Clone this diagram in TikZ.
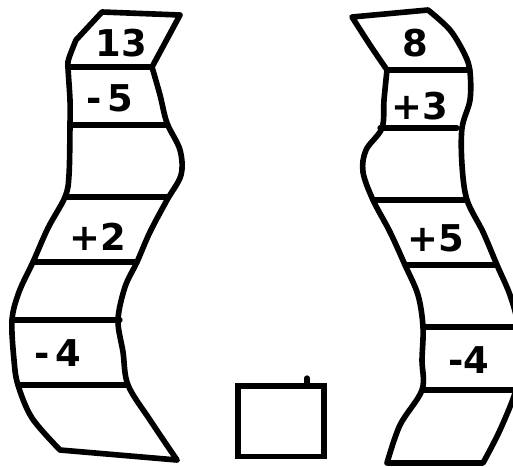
\documentclass[tikz,border=0pt]{standalone}
\usepackage{fontspec}
\setmainfont{DejaVu Sans}
\usetikzlibrary{positioning}

\begin{document}
\begin{tikzpicture}[
  x=0.02cm, y=-0.02cm,
  rim/.style={line width=3.2pt, line cap=round, line join=round},
  rung/.style={line width=3pt, line cap=round},
  num/.style={font=\fontsize{21}{24}\selectfont\bfseries, inner sep=0pt},
  ansbox/.style={draw, line width=3.4pt, minimum width=1.72cm, minimum height=1.42cm, inner sep=0pt}
]
  \useasboundingbox (0,0) rectangle (513,466);
  \clip (0,0) rectangle (513,466);

  % left strip
  \draw[rim] (180,15) -- (102,12) -- (76,40)
    plot[smooth, tension=0.55] coordinates {(76,40) (69,58) (68,67) (70,100) (70,125) (69,175) (65,197) (48,228) (33,262) (19,292) (12,320) (14,360) (18,385) (32,418) (60,450)}
    -- (177,460)
    plot[smooth, tension=0.55] coordinates {(177,460) (150,420) (128,385) (123,352) (118,320) (125,287) (137,262) (150,232) (167,200) (181,175) (180,150) (167,123) (160,95) (152,67)}
    -- (180,15);
  \foreach \ya/\xa/\xb in {67/68/152, 125/70/167, 197/65/167, 262/33/137, 320/12/120, 385/18/128}
    \draw[rung] (\xa,\ya) -- (\xb,\ya);

  % right strip
  \draw[rim] (387,70)
    plot[smooth, tension=0.55] coordinates {(387,70) (370,45) (352,17)}
    -- (428,10)
    plot[smooth, tension=0.55] coordinates {(428,10) (450,30) (465,55) (470,72) (470,100) (462,128) (462,165) (467,200) (483,232) (497,265) (510,295) (518,325) (520,360) (516,390) (500,430) (483,463)}
    -- (387,463)
    plot[smooth, tension=0.55] coordinates {(387,463) (400,425) (422,390) (422,360) (423,327) (418,295) (405,265) (390,232) (373,200) (363,172) (366,150) (382,128) (384,100) (387,70)};
  \foreach \ya/\xa/\xb in {70/387/470, 128/380/457, 200/373/467, 265/405/497, 327/423/513, 390/422/513}
    \draw[rung] (\xa,\ya) -- (\xb,\ya);

  % numbers
  \node[num] (l1) at (121,43)  {13};
  \node[num] (l2) at (110,98)  {-\,5};
  \node[num] (l4) at (98,237)  {+2};
  \node[num] (l6) at (58,353)  {-\,4};
  \node[num] (r1) at (415,43)  {8};
  \node[num] (r2) at (420,106) {+3};
  \node[num] (r4) at (436,238) {+5};
  \node[num] (r6) at (469,360) {-4};

  % empty box
  \node[ansbox] (ans) at (281,421) {};
  \coordinate (tick) at (307,378);
  \draw[rung] (ans.north -| tick) -- (tick);
\end{tikzpicture}
\end{document}
